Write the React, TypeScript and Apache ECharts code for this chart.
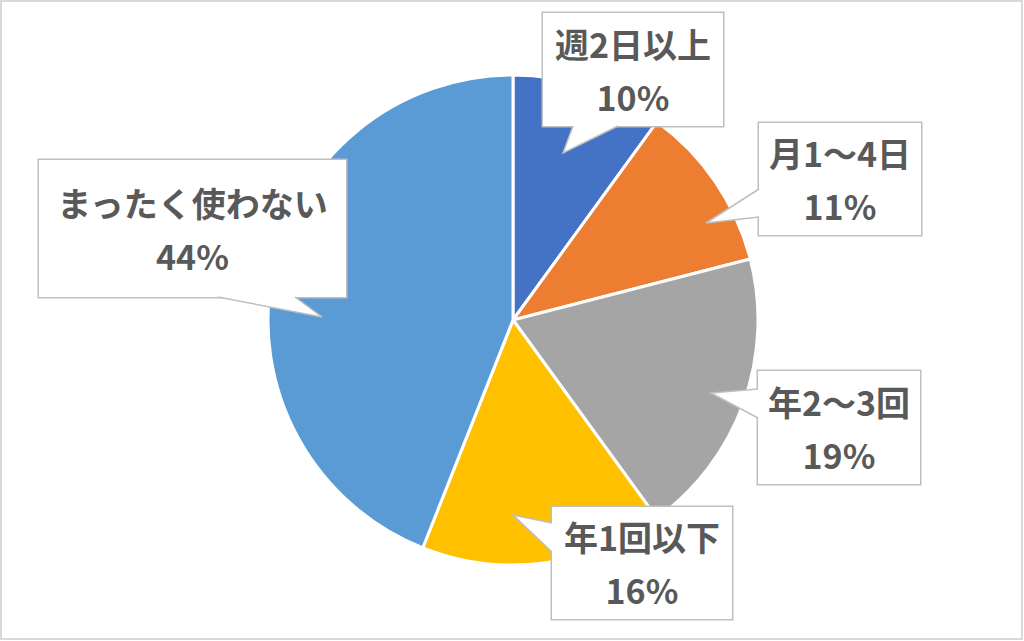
import { useEffect, useRef } from 'react';
import * as echarts from 'echarts';

// usage frequency, clockwise from 12 o'clock
const categories = ['週2日以上', '月1～4日', '年2～3回', '年1回以下', 'まったく使わない'];
const shares = [10, 11, 19, 16, 44];
const colors = ['#4472C4', '#ED7D31', '#A5A5A5', '#FFC000', '#5B9BD5'];

// callout boxes (Excel-style data callouts): box rect, wedge tip, wedge base on the box edge
const callouts = [
  { x: 543, y: 13, w: 180, h: 113, pt: 6, tip: [563, 153], base: [[573, 126], [618, 126]], inward: [0, -2] },
  { x: 759, y: 123, w: 162, h: 112, pt: 6, tip: [706, 223], base: [[759, 189], [759, 217]], inward: [2, 0] },
  { x: 758, y: 371, w: 162, h: 113, pt: 6, tip: [711, 393], base: [[758, 389], [758, 418]], inward: [2, 0] },
  { x: 552, y: 507, w: 180, h: 112, pt: 6, tip: [513, 515], base: [[552, 523], [552, 552]], inward: [2, 0] },
  { x: 39, y: 160, w: 307, h: 137, pt: 19, tip: [322, 317], base: [[218, 297], [295, 297]], inward: [0, -2] },
];

const LINE_H = 53;
const BORDER = '#bfbfbf';

function wedge(c: (typeof callouts)[number]) {
  const [b0, b1] = c.base;
  const [ix, iy] = c.inward;
  return [
    {
      type: 'polygon',
      z: 100,
      shape: { points: [[b0[0] + ix, b0[1] + iy], b0, c.tip, b1, [b1[0] + ix, b1[1] + iy]] },
      style: { fill: '#fff', stroke: null },
    },
    {
      type: 'polyline',
      z: 101,
      shape: { points: [b0, c.tip, b1] },
      style: { stroke: BORDER, lineWidth: 1.5, fill: null },
    },
  ];
}

export default function App() {
  const elRef = useRef<HTMLDivElement>(null);

  useEffect(() => {
    const el = elRef.current;
    if (!el) return;
    const chart = echarts.init(el, undefined, { renderer: 'svg' });

    chart.setOption({
      animation: false,
      backgroundColor: '#fff',
      graphic: [
        {
          type: 'rect',
          z: 0,
          shape: { x: 1, y: 1, width: 1021, height: 638 },
          style: { fill: null, stroke: '#d9d9d9', lineWidth: 2 },
        },
        ...callouts.flatMap(wedge),
      ],
      series: [
        {
          type: 'pie',
          center: [513, 320],
          radius: 245,
          startAngle: 90,
          clockwise: true,
          avoidLabelOverlap: false,
          itemStyle: { borderColor: '#fff', borderWidth: 3 },
          labelLine: { show: false },
          label: {
            show: true,
            position: 'outside',
            formatter: '{b}\n{c}%',
            color: '#595959',
            fontSize: 34,
            fontWeight: 'bold',
            fontFamily: "'Noto Sans CJK JP', sans-serif",
            lineHeight: LINE_H,
            align: 'center',
            overflow: 'none',
            backgroundColor: '#fff',
            borderColor: BORDER,
            borderWidth: 1.5,
          },
          labelLayout: (p: { dataIndex: number }) => {
            const c = callouts[p.dataIndex];
            return { x: c.x + c.w / 2, y: c.y + c.h / 2, align: 'center', verticalAlign: 'middle' };
          },
          emphasis: { disabled: true },
          data: categories.map((name, i) => {
            const c = callouts[i];
            return {
              name,
              value: shares[i],
              itemStyle: { color: colors[i] },
              label: {
                width: c.w,
                padding: [c.pt, 0, c.h - c.pt - LINE_H * 2, 0],
              },
            };
          }),
        },
      ],
    });

    return () => chart.dispose();
  }, []);

  return (
    <div
      ref={elRef}
      style={{ position: 'absolute', left: 0, top: 0, width: 1024, height: 641 }}
    />
  );
}
